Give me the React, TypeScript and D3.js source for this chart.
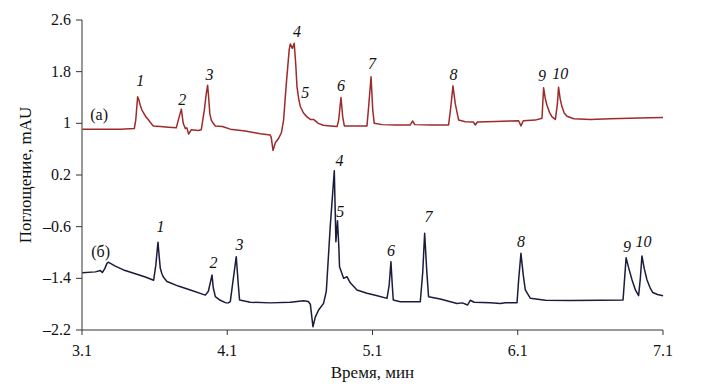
import React from "react";
import * as d3 from "d3";

const xTicks = [3.1, 4.1, 5.1, 6.1, 7.1];
const yTicks = [2.6, 1.8, 1, 0.2, -0.6, -1.4, -2.2];

// Trace (a)
const timeA = [3.102,3.226,3.364,3.46,3.47,3.483,3.492,3.501,3.512,3.524,3.54,3.556,3.575,3.591,3.615,3.639,3.694,3.749,3.763,3.784,3.797,3.811,3.822,3.834,3.852,3.901,3.921,3.942,3.955,3.965,3.972,3.98,3.99,4.004,4.018,4.066,4.121,4.224,4.327,4.396,4.403,4.415,4.431,4.454,4.472,4.488,4.506,4.527,4.534,4.548,4.561,4.572,4.58,4.592,4.603,4.625,4.649,4.672,4.694,4.727,4.761,4.809,4.856,4.867,4.883,4.895,4.906,4.982,5.062,5.075,5.09,5.102,5.112,5.167,5.257,5.36,5.376,5.391,5.498,5.624,5.639,5.654,5.67,5.693,5.739,5.794,5.808,5.822,5.945,6.049,6.106,6.122,6.138,6.221,6.267,6.278,6.29,6.301,6.318,6.336,6.359,6.373,6.381,6.392,6.404,6.42,6.439,6.485,6.6,6.737,6.875,7.013,7.1];
const valueA = [0.91,0.91,0.91,0.92,1.05,1.41,1.36,1.28,1.21,1.16,1.1,1.06,1.0,0.96,0.955,0.95,0.94,0.93,1.05,1.22,1.0,0.92,0.93,0.835,0.9,0.89,0.9,1.2,1.45,1.59,1.4,1.15,1.05,1.0,0.96,0.95,0.91,0.88,0.84,0.82,0.78,0.58,0.7,0.77,0.85,1.05,1.6,2.15,2.23,2.16,2.24,1.9,1.57,1.38,1.26,1.16,1.1,1.06,1.06,1.0,0.97,0.96,0.95,1.05,1.4,1.1,0.96,0.96,0.96,1.3,1.72,1.2,1.0,0.98,0.975,0.975,1.036,0.98,0.975,0.975,1.25,1.58,1.3,1.05,1.025,1.02,0.975,1.02,1.03,1.035,1.04,0.96,1.04,1.05,1.08,1.55,1.38,1.28,1.17,1.1,1.06,1.3,1.56,1.38,1.26,1.16,1.11,1.07,1.06,1.07,1.08,1.085,1.09];

// Trace (б)
const timeB = [3.102,3.192,3.226,3.24,3.257,3.272,3.281,3.329,3.386,3.467,3.536,3.593,3.608,3.623,3.631,3.639,3.65,3.66,3.685,3.763,3.846,3.949,3.97,3.995,4.004,4.018,4.052,4.087,4.107,4.121,4.142,4.162,4.176,4.185,4.259,4.396,4.534,4.626,4.658,4.672,4.69,4.706,4.729,4.763,4.782,4.809,4.837,4.848,4.859,4.868,4.873,4.901,4.924,4.947,4.993,5.062,5.133,5.2,5.215,5.227,5.236,5.243,5.291,5.429,5.446,5.459,5.474,5.486,5.566,5.682,5.718,5.755,5.773,5.8,5.911,5.98,6.014,6.095,6.107,6.122,6.138,6.152,6.187,6.29,6.462,6.668,6.825,6.846,6.865,6.887,6.91,6.932,6.944,6.955,6.971,6.99,7.012,7.03,7.062,7.1];
const valueB = [-1.313,-1.3,-1.28,-1.31,-1.25,-1.168,-1.15,-1.21,-1.27,-1.33,-1.38,-1.43,-1.2,-0.84,-1.05,-1.245,-1.33,-1.38,-1.45,-1.52,-1.58,-1.66,-1.6,-1.35,-1.55,-1.684,-1.74,-1.777,-1.78,-1.76,-1.4,-1.065,-1.5,-1.736,-1.77,-1.78,-1.77,-1.747,-1.76,-1.8,-2.149,-2.0,-1.89,-1.787,-1.6,-0.6,0.267,-0.832,-0.508,-0.9,-1.22,-1.4,-1.375,-1.47,-1.58,-1.63,-1.67,-1.71,-1.5,-1.142,-1.5,-1.736,-1.762,-1.762,-1.3,-0.703,-1.3,-1.684,-1.72,-1.79,-1.78,-1.813,-1.74,-1.77,-1.777,-1.79,-1.777,-1.777,-1.4,-1.013,-1.35,-1.58,-1.71,-1.74,-1.745,-1.74,-1.736,-1.08,-1.25,-1.426,-1.58,-1.668,-1.4,-1.054,-1.25,-1.426,-1.55,-1.62,-1.65,-1.668];

const peakNames = ["1","2","3","4","5","6","7","8","9","10"];
const peakTimeA = [3.501,3.791,3.978,4.58,4.637,4.883,5.097,5.658,6.267,6.393];
const peakValueA = [1.578,1.284,1.671,2.341,1.392,1.505,1.837,1.671,1.655,1.686];
const peakTimeB = [3.64,4.006,4.185,4.873,4.878,5.227,5.486,6.122,6.852,6.966];
const peakValueB = [-0.678,-1.245,-0.961,0.339,-0.446,-1.054,-0.523,-0.92,-0.988,-0.92];

const traceLabels = ["(a)", "(б)"];
const traceLabelTime = [3.157, 3.164];
const traceLabelValue = [1.052, -1.07];

const W = 704, H = 390;
const M = { left: 82, right: 41, top: 20, bottom: 60 };
const FONT = "Liberation Serif";

export default function App() {
  const x = d3.scaleLinear().domain([3.1, 7.1]).range([M.left, W - M.right]);
  const y = d3.scaleLinear().domain([-2.2, 2.6]).range([H - M.bottom, M.top]);
  const line = d3.line<[number, number]>().x(d => x(d[0])).y(d => y(d[1]));
  const dataA: [number, number][] = timeA.map((t, i) => [t, valueA[i]]);
  const dataB: [number, number][] = timeB.map((t, i) => [t, valueB[i]]);
  const fmt = (v: number) => (v < 0 ? "\u2013" + String(Math.abs(v)) : String(v));
  const axisColor = "#333";
  const ts: React.CSSProperties = { fontFamily: FONT };
  const tsi: React.CSSProperties = { fontFamily: FONT, fontStyle: "italic" };
  return (
    <svg width={W} height={H} style={{ position: "absolute", left: 0, top: 0, background: "#fff" }}>
      {/* y axis */}
      <line x1={x(3.1)} x2={x(3.1)} y1={y(2.6)} y2={y(-2.2)} stroke={axisColor} strokeWidth={1} />
      {yTicks.map(v => (
        <g key={"y" + v}>
          <line x1={x(3.1) - 6} x2={x(3.1)} y1={y(v)} y2={y(v)} stroke={axisColor} />
          <text x={x(3.1) - 11} y={y(v) + 5} textAnchor="end" fontSize={16} fill="#111" style={ts}>{fmt(v)}</text>
        </g>
      ))}
      {/* x axis */}
      <line x1={x(3.1)} x2={x(7.1)} y1={y(-2.2)} y2={y(-2.2)} stroke={axisColor} strokeWidth={1} />
      {xTicks.map(t => (
        <g key={"x" + t}>
          <line x1={x(t)} x2={x(t)} y1={y(-2.2)} y2={y(-2.2) + 5} stroke={axisColor} />
          <text x={x(t)} y={y(-2.2) + 26} textAnchor="middle" fontSize={16} fill="#111" style={ts}>{t.toFixed(1)}</text>
        </g>
      ))}
      <text x={(x(3.1) + x(7.1)) / 2} y={378} textAnchor="middle" fontSize={17} fill="#111" style={ts}>Время, мин</text>
      <text transform={`translate(31, ${(y(2.6) + y(-2.2)) / 2}) rotate(-90)`} textAnchor="middle" fontSize={17} fill="#111" style={ts}>Поглощение, mAU</text>
      {/* traces */}
      <path d={line(dataA) || ""} fill="none" stroke="#9e2a2b" strokeWidth={1.5} strokeLinejoin="round" />
      <path d={line(dataB) || ""} fill="none" stroke="#1b1b3d" strokeWidth={1.5} strokeLinejoin="round" />
      {/* peak labels */}
      {peakNames.map((n, i) => (
        <text key={"pa" + n} x={x(peakTimeA[i])} y={y(peakValueA[i])} textAnchor="middle" fontSize={16} fill="#111" style={tsi}>{n}</text>
      ))}
      {peakNames.map((n, i) => (
        <text key={"pb" + n} x={x(peakTimeB[i])} y={y(peakValueB[i])} textAnchor="middle" fontSize={16} fill="#111" style={tsi}>{n}</text>
      ))}
      {traceLabels.map((l, i) => (
        <text key={l} x={x(traceLabelTime[i])} y={y(traceLabelValue[i])} fontSize={16} fill="#111" style={ts}>{l}</text>
      ))}
    </svg>
  );
}
